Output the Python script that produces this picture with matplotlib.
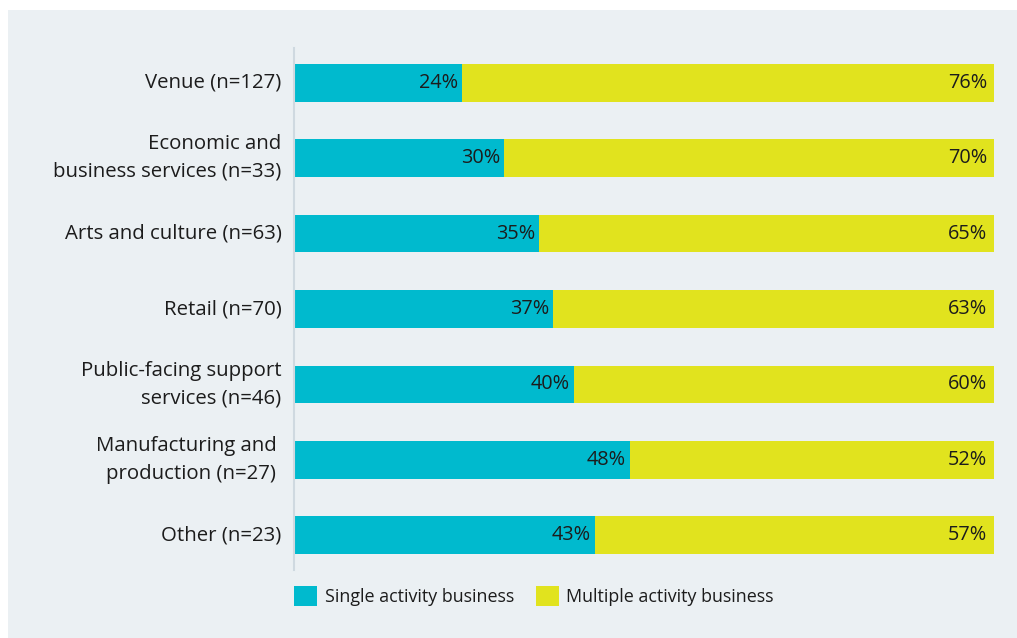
import matplotlib
matplotlib.use("Agg")
import matplotlib.pyplot as plt
from matplotlib.patches import Rectangle

categories = [
    "Venue (n=127)",
    "Economic and\nbusiness services (n=33)",
    "Arts and culture (n=63)",
    "Retail (n=70)",
    "Public-facing support\nservices (n=46)",
    "Manufacturing and \nproduction (n=27) ",
    "Other (n=23)",
]
single = [24, 30, 35, 37, 40, 48, 43]
multiple = [76, 70, 65, 63, 60, 52, 57]
series_names = ["Single activity business", "Multiple activity business"]

TEAL = "#00BACE"
YELLOW = "#E1E31E"
PANEL = "#EBF0F3"
TEXT = "#1c1c1c"

plt.rcParams["font.family"] = ["Open Sans", "DejaVu Sans"]

W, H = 1017, 638
fig = plt.figure(figsize=(W / 100, H / 100), dpi=100)
fig.patch.set_facecolor("white")
fig.patches.append(Rectangle((8 / W, 0), 1 - 8 / W, 1 - 10 / H,
                             transform=fig.transFigure, facecolor=PANEL,
                             edgecolor="none", zorder=-10))

ax = fig.add_axes([294 / W, (H - 570) / H, 700 / W, 522 / H])
ax.set_facecolor("none")
ax.set_zorder(1)

y = list(range(len(categories)))
ax.barh(y, single, height=0.5, color=TEAL, label=series_names[0])
ax.barh(y, multiple, left=single, height=0.5, color=YELLOW, label=series_names[1])

for i, (s, m) in enumerate(zip(single, multiple)):
    ax.annotate(f"{s}%", (s, i), xytext=(-3, 0), textcoords="offset points",
                ha="right", va="center", fontsize=14.3, color=TEXT)
    ax.annotate(f"{m}%", (s + m, i), xytext=(-5, 0), textcoords="offset points",
                ha="right", va="center", fontsize=14.3, color=TEXT)

ax.set_xlim(0, 100)
ax.set_ylim(len(categories) - 1 + 0.46, -0.46)
ax.set_yticks(y)
ax.set_yticklabels(categories, fontsize=14.7, color=TEXT, linespacing=1.5)
for lbl in ax.get_yticklabels():
    lbl.set_verticalalignment("center")
ax.tick_params(axis="y", length=0, pad=9)
ax.set_xticks([])
for side in ["top", "right", "bottom"]:
    ax.spines[side].set_visible(False)
ax.spines["left"].set_color("#CFD9E0")
ax.spines["left"].set_linewidth(1.5)

leg = fig.legend(loc="center left", bbox_to_anchor=(294 / W, (H - 596) / H),
                 ncol=2, frameon=False, fontsize=12.9, handlelength=1.3,
                 handleheight=1.3, handletextpad=0.42, columnspacing=1.2,
                 borderpad=0, borderaxespad=0, labelcolor=TEXT)

fig.savefig("out.png", dpi=100, facecolor=fig.get_facecolor())
